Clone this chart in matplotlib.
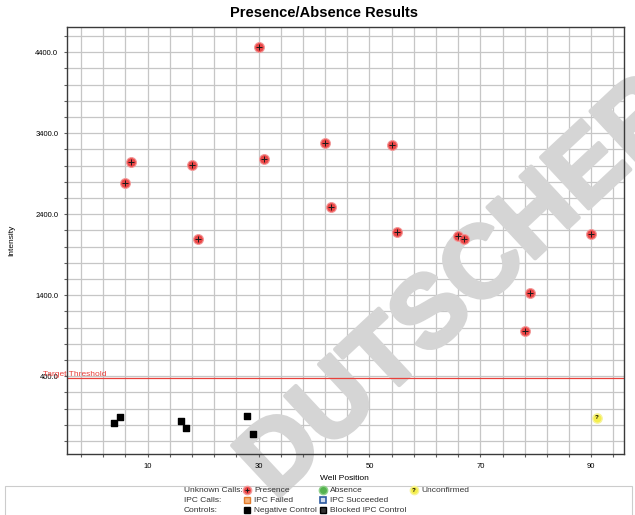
import matplotlib
matplotlib.use("Agg")
import matplotlib.pyplot as plt
import matplotlib.patheffects as pe
from matplotlib.ticker import MultipleLocator, FixedLocator, FormatStrFormatter
from matplotlib.lines import Line2D
from matplotlib.patches import Rectangle

plt.rcParams['font.family'] = ['Liberation Sans', 'DejaVu Sans']

# data
presence_x = [6, 7, 18, 19, 30, 31, 42, 43, 54, 55, 66, 67, 78, 79, 90]
presence_y = [2783, 3042, 3005, 2095, 4457, 3086, 3280, 2486, 3252, 2181, 2132, 2099, 959, 1432, 2160]
negative_x = [4, 5, 16, 17, 28, 29]
negative_y = [-177, -99, -148, -242, -90, -312]
unconfirmed_x = [91]
unconfirmed_y = [-115]
threshold = 375
x_labels = [10, 30, 50, 70, 90]
y_labels = [400, 1400, 2400, 3400, 4400]

W, H = 635, 515
fig = plt.figure(figsize=(W / 100, H / 100), dpi=100)

def fx(x):
    return x / W

def fy(y):
    return 1 - y / H

rect = [fx(66.7), fy(454), (624 - 66.7) / W, (454 - 27) / H]

# back axes: grid + watermark
gax = fig.add_axes(rect, zorder=0)
gax.set_xlim(-4.6, 95.9)
gax.set_ylim(-560, 4710)
gax.xaxis.set_major_locator(FixedLocator(x_labels))
gax.xaxis.set_minor_locator(MultipleLocator(4, offset=2))
gax.yaxis.set_major_locator(FixedLocator(y_labels))
gax.yaxis.set_minor_locator(MultipleLocator(200))
gax.grid(which='both', color='#c6c6c6', lw=0.9)
gax.set_axisbelow(True)
gax.tick_params(which='both', length=0, labelbottom=False, labelleft=False)
for sp in gax.spines.values():
    sp.set_visible(False)

gax.text(fx(463), fy(290), 'DUTSCHER', transform=fig.transFigure, rotation=43,
         ha='center', va='center', rotation_mode='anchor', fontsize=73,
         fontweight='bold', color='#d5d5d5', zorder=1.5, clip_on=False,
         path_effects=[pe.withStroke(linewidth=3, foreground='#d5d5d5')])

# front axes: spines, ticks, marks
ax = fig.add_axes(rect, zorder=1, sharex=gax, sharey=gax)
ax.patch.set_visible(False)
ax.yaxis.set_major_formatter(FormatStrFormatter('%.1f'))
ax.tick_params(which='both', direction='out', length=2.5, width=0.8, color='#606060',
               labelsize=5.5, top=False, right=False)
ax.tick_params(axis='x', pad=4)
ax.tick_params(axis='y', pad=3.5)
for sp in ax.spines.values():
    sp.set_color('#3a3a3a')
    sp.set_linewidth(1.0)

# threshold
ax.axhline(threshold, color='#e8413c', lw=0.9, zorder=2)
ax.annotate('Target Threshold', xy=(fx(43), threshold), xycoords=(fig.transFigure, 'data'),
            xytext=(0, 0.5), textcoords='offset points', va='bottom', ha='left',
            fontsize=6, color='#e8413c', annotation_clip=False)

# points
ax.scatter(presence_x, presence_y, s=50, c='#eb4747', edgecolors='#f29a9a', linewidths=0.8, zorder=3)
ax.scatter(presence_x, presence_y, s=14, marker='+', c='#1a1a1a', linewidths=0.7, zorder=4)
ax.scatter(negative_x, negative_y, s=22, marker='s', c='black', zorder=3)
ax.scatter(unconfirmed_x, unconfirmed_y, s=45, c='#f4ee4c', edgecolors='#f7f39a', zorder=3)
for x, y in zip(unconfirmed_x, unconfirmed_y):
    ax.text(x, y, '?', ha='center', va='center', fontsize=4.5, fontweight='bold', zorder=4)

# titles
fig.text(fx(324), fy(13), 'Presence/Absence Results', ha='center', va='center',
         fontsize=10.5, fontweight='bold')
fig.text(fx(12), fy(240), 'Intensity', rotation=90, ha='center', va='center', fontsize=6)
fig.text(fx(344), fy(478), 'Well Position', ha='center', va='center', fontsize=6)

# legend
fig.add_artist(Rectangle((fx(5), fy(516)), (632 - 5) / W, 30 / H, transform=fig.transFigure,
                         fill=False, ec='#cccccc', lw=0.8))
rows = [490, 500, 510]
for y, lab in zip(rows, ['Unknown Calls:', 'IPC Calls:', 'Controls:']):
    fig.text(fx(184), fy(y), lab, va='center', ha='left', fontsize=6, color='#333333')

items = [
    (247, 490, 'Presence', dict(marker='o', ms=6, mfc='#eb4747', mec='#f29a9a')),
    (247, 500, 'IPC Failed', dict(marker='s', ms=4, mfc='#f5b27a', mec='#e07a2a')),
    (247, 510, 'Negative Control', dict(marker='s', ms=4, mfc='black', mec='black')),
    (323, 490, 'Absence', dict(marker='o', ms=6, mfc='#55b24f', mec='#8fd08a')),
    (323, 500, 'IPC Succeeded', dict(marker='s', ms=4, mfc='#d0dcf0', mec='#2c5aa0', mew=1.2)),
    (323, 510, 'Blocked IPC Control', dict(marker='s', ms=4, mfc='#333333', mec='black')),
    (414, 490, 'Unconfirmed', dict(marker='o', ms=6, mfc='#f4ee4c', mec='#f7f39a')),
]
for x, y, lab, st in items:
    fig.add_artist(Line2D([fx(x)], [fy(y)], transform=fig.transFigure, ls='none', **st))
    fig.text(fx(x + 7), fy(y), lab, va='center', ha='left', fontsize=6, color='#333333')
fig.add_artist(Line2D([fx(247)], [fy(490)], transform=fig.transFigure, ls='none',
                      marker='+', ms=3, mec='#1a1a1a', mew=0.7))
fig.text(fx(414), fy(490), '?', ha='center', va='center', fontsize=4.5, fontweight='bold')

fig.savefig('out.png', dpi=100)
